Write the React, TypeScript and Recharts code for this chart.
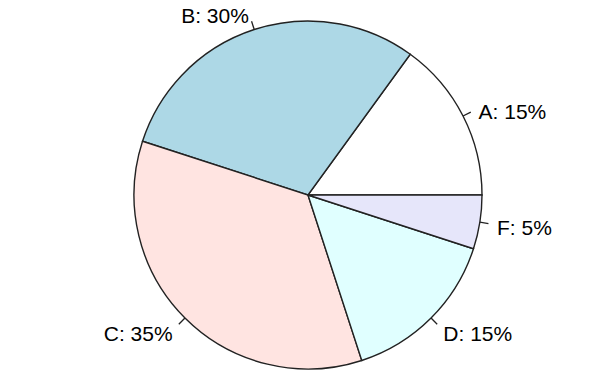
import React from 'react';
import { PieChart, Pie, Cell } from 'recharts';

const labels = ['A', 'B', 'C', 'D', 'F'];
const shares = [15, 30, 35, 15, 5];
const colors = ['#FFFFFF', '#ADD8E6', '#FFE4E1', '#E0FFFF', '#E6E6FA'];

const data = labels.map((name, i) => ({ name, value: shares[i] }));

const RAD = Math.PI / 180;

// R-style label: short tick from the edge, text at 1.1 x radius
const renderLabel = (props: any) => {
  const { cx, cy, midAngle, outerRadius, name, value } = props;
  const cos = Math.cos(-midAngle * RAD);
  const sin = Math.sin(-midAngle * RAD);
  const x0 = cx + outerRadius * cos;
  const y0 = cy + outerRadius * sin;
  const x1 = cx + outerRadius * 1.05 * cos;
  const y1 = cy + outerRadius * 1.05 * sin;
  const tx = cx + outerRadius * 1.1 * cos;
  const ty = cy + outerRadius * 1.1 * sin;
  return (
    <g>
      <line x1={x0} y1={y0} x2={x1} y2={y1} stroke="#222" strokeWidth={1.3} />
      <text
        x={tx}
        y={ty}
        dy={3}
        textAnchor={cos < 0 ? 'end' : 'start'}
        dominantBaseline="central"
        fill="#000"
        fontSize={21}
        fontFamily="'Liberation Sans', Arial, sans-serif"
      >
        {`${name}: ${value}%`}
      </text>
    </g>
  );
};

export default function App() {
  return (
    <div style={{ position: 'absolute', left: 0, top: 0, width: 606, height: 380, background: '#fff' }}>
      <PieChart width={606} height={380} margin={{ top: 0, right: 0, bottom: 0, left: 0 }}>
        <Pie
          data={data}
          dataKey="value"
          nameKey="name"
          cx={308}
          cy={195}
          outerRadius={174}
          startAngle={0}
          endAngle={360}
          stroke="#222"
          strokeWidth={1.4}
          label={renderLabel}
          labelLine={false}
          isAnimationActive={false}
        >
          {data.map((d, i) => (
            <Cell key={d.name} fill={colors[i]} />
          ))}
        </Pie>
      </PieChart>
    </div>
  );
}
